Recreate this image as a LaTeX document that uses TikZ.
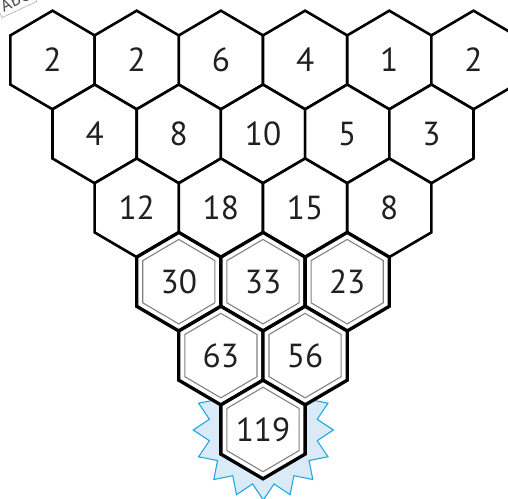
\documentclass[tikz,border=0pt]{standalone}
\usepackage{fontspec}
\setmainfont{PT Sans}
\definecolor{starfill}{RGB}{218,235,247}
\definecolor{starline}{RGB}{30,165,220}
\definecolor{innergray}{RGB}{128,128,128}
\definecolor{numink}{RGB}{35,31,32}
\tikzset{
  hexagon/.pic={\path[pic actions] (0,-49.3) -- (42.1,-24.6) -- (42.1,24.6) -- (0,49.3) -- (-42.1,24.6) -- (-42.1,-24.6) -- cycle;},
  hexthin/.style={draw=black, fill=white, line width=1.95pt, line join=miter},
  hexthick/.style={draw=black, fill=white, line width=2.5pt, line join=miter},
  hexinner/.style={draw=innergray, line width=0.8pt, scale=0.857},
  numlabel/.style={font=\fontsize{25}{25}\selectfont, text=numink},
  starburst/.style={fill=starfill, draw=starline, line width=0.8pt},
  tag/.style={draw=gray!70, text=gray!60!black, rotate=25, anchor=south west, inner sep=3pt, font=\fontsize{13}{13}\selectfont}
}
\begin{document}
\begin{tikzpicture}[x=0.75pt,y=-0.75pt]
\useasboundingbox (0,0) rectangle (508,499);
\clip (0,0) rectangle (508,499);
\node[tag] (tagbox) at (2,18) {ABC};
\coordinate (starc) at (263.3,430);
\draw[starburst, shift={(starc)}] plot[samples at={0,1,...,31}] ({\x*11.25}:{62.5+7.5*cos(\x*180)}) -- cycle;
\foreach \r/\vals in {0/{2,2,6,4,1,2},1/{4,8,10,5,3},2/{12,18,15,8},3/{30,33,23},4/{63,56},5/{119}}{
  \foreach \v [count=\i from 0] in \vals {
    \pgfmathsetmacro\cx{52.5+84.2*\i+42.1*\r}
    \pgfmathsetmacro\cy{60+73.9*\r}
    \ifnum\r<3
      \pic[hexthin] at (\cx,\cy) {hexagon};
    \else
      \pic[hexthick] at (\cx,\cy) {hexagon};
      \pic[hexinner] at (\cx,\cy) {hexagon};
    \fi
    \node[numlabel] (h\r\i) at (\cx,\cy) {\v};
  }
}
\end{tikzpicture}
\end{document}
